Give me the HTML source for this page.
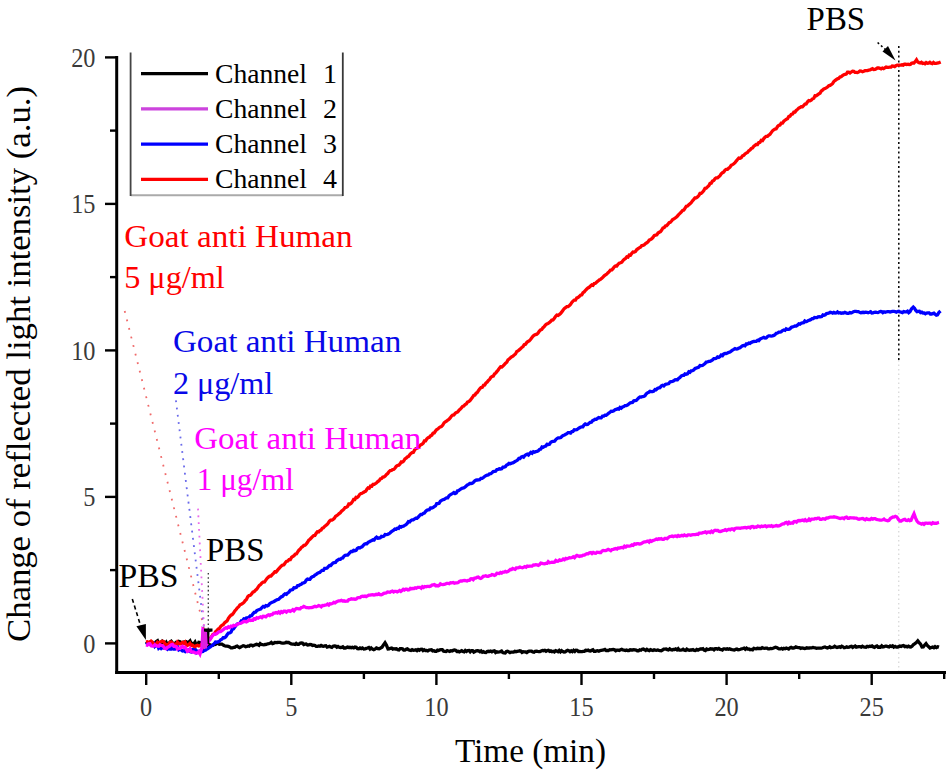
<!DOCTYPE html><html><head><meta charset="utf-8"><style>html,body{margin:0;padding:0;background:#fff;}svg{display:block;}text{font-family:"Liberation Serif",serif;}</style></head><body>
<svg width="952" height="775" viewBox="0 0 952 775">
<g fill="none" stroke="#000">
<line x1="898.8" y1="46" x2="898.8" y2="360" stroke-dasharray="2 2.8" stroke-width="1.5"/>
<line x1="898.8" y1="360" x2="898.8" y2="672" stroke="#ccc" stroke-dasharray="1.5 3" stroke-width="1"/>
</g>
<path d="M146.0,641.8 L147.3,643.0 L148.5,643.2 L149.8,642.3 L151.1,642.6 L152.4,642.5 L153.6,643.3 L154.9,644.1 L156.2,641.6 L157.5,640.7 L158.7,643.7 L160.0,642.9 L161.2,644.1 L162.5,641.4 L163.8,642.5 L165.0,643.9 L166.2,642.3 L167.5,644.8 L168.8,645.3 L170.0,642.0 L171.2,641.2 L172.5,643.0 L173.8,645.1 L175.0,643.4 L176.2,642.3 L177.5,642.8 L178.8,641.4 L180.0,641.7 L181.2,642.6 L182.5,643.1 L183.8,642.1 L185.0,641.8 L186.2,641.7 L187.5,642.6 L188.8,642.1 L190.0,640.9 L191.2,643.9 L192.5,643.5 L193.8,643.9 L195.0,642.2 L196.2,645.0 L197.5,645.2 L198.8,642.4 L200.0,642.6 L201.2,644.4 L202.5,645.0 L203.8,646.2 L205.0,644.7 L206.2,645.4 L207.5,645.5 L208.8,644.6 L210.1,644.9 L211.5,645.3 L212.8,645.3 L214.1,644.6 L215.4,644.5 L216.8,643.4 L218.1,643.4 L219.4,644.3 L220.7,644.2 L222.0,644.1 L223.3,645.0 L224.6,645.8 L225.9,646.2 L227.1,646.1 L228.4,646.4 L229.7,646.9 L231.0,647.8 L232.3,647.9 L233.5,647.4 L234.7,647.3 L235.9,646.4 L237.1,646.0 L238.3,647.0 L239.5,647.7 L240.7,647.0 L241.9,646.4 L243.2,645.7 L244.4,646.0 L245.6,646.8 L246.8,646.5 L248.0,645.9 L249.2,646.2 L250.4,645.1 L251.6,645.1 L252.8,645.9 L254.1,645.3 L255.3,644.8 L256.5,644.3 L257.7,644.6 L259.0,645.3 L260.2,643.6 L261.4,644.5 L262.7,644.7 L263.9,644.8 L265.1,644.5 L266.3,644.4 L267.6,643.8 L268.8,643.6 L270.0,643.3 L271.3,642.4 L272.5,643.6 L273.7,643.2 L274.9,642.4 L276.2,642.6 L277.4,642.5 L278.7,642.4 L279.9,642.4 L281.2,642.8 L282.4,643.1 L283.7,643.2 L284.9,643.0 L286.2,642.3 L287.4,642.5 L288.7,642.5 L290.0,643.3 L291.2,644.0 L292.5,644.2 L293.7,644.2 L295.0,644.4 L296.2,643.4 L297.5,644.3 L298.7,644.3 L300.0,643.3 L301.2,643.0 L302.5,643.1 L303.8,644.6 L305.0,644.2 L306.2,644.0 L307.5,645.0 L308.8,644.8 L310.0,644.4 L311.2,644.6 L312.5,645.5 L313.8,645.1 L315.0,645.4 L316.2,646.4 L317.5,646.3 L318.7,646.0 L319.9,646.3 L321.1,645.5 L322.3,646.1 L323.5,646.3 L324.7,645.9 L325.9,645.8 L327.1,647.2 L328.3,646.8 L329.5,646.3 L330.7,646.9 L331.9,647.4 L333.1,646.2 L334.4,645.9 L335.6,646.1 L336.8,647.2 L338.0,646.5 L339.2,647.3 L340.4,647.5 L341.6,647.4 L342.8,646.8 L344.0,648.0 L345.2,648.0 L346.4,647.6 L347.6,647.0 L348.8,647.6 L350.0,647.3 L351.2,647.7 L352.5,647.3 L353.8,647.9 L355.0,647.0 L356.2,647.3 L357.5,648.6 L358.8,648.8 L360.0,647.9 L361.2,648.7 L362.5,648.0 L363.8,649.0 L365.0,648.9 L366.2,648.4 L367.5,648.0 L368.8,647.5 L370.0,649.0 L371.2,647.9 L372.5,649.1 L373.8,649.7 L375.0,649.2 L376.4,647.9 L377.8,648.6 L379.2,648.7 L380.6,648.0 L382.0,647.2 L383.5,644.8 L385.0,642.7 L386.5,645.3 L388.0,649.0 L389.2,648.8 L390.4,648.3 L391.6,648.1 L392.8,649.1 L394.0,648.7 L395.2,649.0 L396.5,648.8 L397.7,649.7 L398.9,650.0 L400.1,648.6 L401.3,648.6 L402.5,648.8 L403.7,650.1 L404.9,650.1 L406.1,649.3 L407.3,648.9 L408.5,649.7 L409.7,650.2 L410.9,650.5 L412.1,649.6 L413.4,650.3 L414.6,650.2 L415.8,649.9 L417.0,650.7 L418.2,649.6 L419.4,650.2 L420.6,649.3 L421.8,649.2 L423.0,650.6 L424.2,649.7 L425.4,650.5 L426.6,650.4 L427.8,650.9 L429.0,650.1 L430.3,649.9 L431.5,649.8 L432.7,650.9 L433.9,650.7 L435.1,651.3 L436.3,651.4 L437.5,650.1 L438.7,650.5 L439.9,649.8 L441.1,649.6 L442.3,649.6 L443.6,651.1 L444.8,651.3 L446.0,651.5 L447.2,650.6 L448.4,651.0 L449.6,651.4 L450.8,650.7 L452.0,651.0 L453.2,650.4 L454.4,650.0 L455.6,650.3 L456.9,651.5 L458.1,651.3 L459.3,651.9 L460.5,651.2 L461.7,650.7 L462.9,651.6 L464.1,651.9 L465.3,650.5 L466.5,651.4 L467.8,650.5 L469.0,650.4 L470.2,651.8 L471.4,650.6 L472.6,650.7 L473.8,652.1 L475.0,651.5 L476.2,650.8 L477.4,650.7 L478.6,650.9 L479.9,651.8 L481.1,650.9 L482.3,652.2 L483.5,651.6 L484.7,652.5 L485.9,652.6 L487.1,651.6 L488.3,651.3 L489.5,651.6 L490.7,651.1 L491.9,651.9 L493.2,651.1 L494.4,650.8 L495.6,652.5 L496.8,651.8 L498.0,652.1 L499.2,651.9 L500.4,651.6 L501.6,651.1 L502.8,652.5 L504.0,652.9 L505.2,653.0 L506.4,651.5 L507.6,651.2 L508.8,651.9 L510.0,652.7 L511.2,652.1 L512.4,652.2 L513.6,652.2 L514.8,651.4 L516.0,651.7 L517.2,651.4 L518.4,651.2 L519.6,650.8 L520.8,651.1 L522.0,652.4 L523.2,651.7 L524.4,651.9 L525.6,651.9 L526.8,652.5 L528.0,651.6 L529.2,651.2 L530.4,651.1 L531.6,651.1 L532.8,652.0 L534.0,652.3 L535.2,651.3 L536.4,651.1 L537.6,651.4 L538.8,651.6 L540.0,651.6 L541.2,651.0 L542.4,650.4 L543.6,650.7 L544.8,650.4 L546.0,651.2 L547.2,650.5 L548.4,650.3 L549.6,651.3 L550.8,650.9 L552.0,651.7 L553.2,651.3 L554.4,651.9 L555.6,650.7 L556.8,651.1 L558.0,651.7 L559.2,650.5 L560.4,651.8 L561.6,650.7 L562.8,651.5 L564.0,652.0 L565.2,651.9 L566.4,650.9 L567.6,650.3 L568.8,650.8 L570.0,651.7 L571.2,650.8 L572.4,651.6 L573.6,650.4 L574.8,651.5 L576.0,650.2 L577.2,650.4 L578.4,651.5 L579.6,651.5 L580.8,651.7 L582.0,651.6 L583.2,651.4 L584.4,651.3 L585.6,650.3 L586.9,650.5 L588.1,650.1 L589.3,650.9 L590.5,651.0 L591.7,650.3 L592.9,649.8 L594.1,651.3 L595.3,651.3 L596.5,650.9 L597.7,650.7 L598.9,651.2 L600.1,650.6 L601.3,650.4 L602.5,650.2 L603.7,650.0 L604.9,649.5 L606.1,650.5 L607.3,650.3 L608.5,650.5 L609.7,649.7 L610.9,649.9 L612.1,649.6 L613.3,649.5 L614.5,649.7 L615.7,650.8 L616.9,650.2 L618.1,650.1 L619.3,650.4 L620.5,649.8 L621.7,649.3 L622.9,650.0 L624.1,650.2 L625.3,650.5 L626.5,650.1 L627.7,650.5 L628.9,650.6 L630.1,649.8 L631.3,650.0 L632.5,650.0 L633.7,649.6 L634.9,649.8 L636.1,650.1 L637.3,650.8 L638.5,650.9 L639.7,649.8 L640.9,650.2 L642.1,649.2 L643.3,649.0 L644.5,649.7 L645.7,650.5 L646.9,649.4 L648.1,650.2 L649.3,650.6 L650.5,649.7 L651.7,650.1 L652.9,650.5 L654.1,649.7 L655.3,650.1 L656.5,650.3 L657.7,650.0 L658.9,650.4 L660.1,650.6 L661.3,650.7 L662.5,650.1 L663.7,649.2 L664.9,649.1 L666.1,649.0 L667.3,649.6 L668.5,650.0 L669.7,648.9 L670.9,649.7 L672.1,650.0 L673.3,649.4 L674.5,649.5 L675.7,648.9 L677.0,649.8 L678.2,648.7 L679.4,650.2 L680.7,650.2 L681.9,649.9 L683.1,649.2 L684.4,650.2 L685.6,650.5 L686.8,649.1 L688.1,649.9 L689.3,650.2 L690.5,650.0 L691.8,650.0 L693.0,649.5 L694.2,650.3 L695.5,650.5 L696.7,649.5 L698.0,650.1 L699.2,649.5 L700.4,648.9 L701.7,649.0 L702.9,648.7 L704.1,650.0 L705.4,650.5 L706.6,649.1 L707.8,649.6 L709.1,649.4 L710.3,648.8 L711.5,649.0 L712.8,648.9 L714.0,649.8 L715.2,648.7 L716.4,648.7 L717.6,649.1 L718.8,648.5 L720.0,649.4 L721.2,649.5 L722.4,650.0 L723.6,648.9 L724.8,648.8 L726.0,649.2 L727.3,648.8 L728.5,649.3 L729.7,648.8 L730.9,649.4 L732.1,649.7 L733.3,649.8 L734.5,650.1 L735.7,649.4 L736.9,649.1 L738.1,649.7 L739.3,649.6 L740.5,649.3 L741.7,648.8 L742.9,648.5 L744.1,648.1 L745.3,649.2 L746.5,648.2 L747.7,649.1 L748.9,649.0 L750.1,649.7 L751.3,649.4 L752.6,649.8 L753.8,648.3 L755.0,648.6 L756.2,648.8 L757.4,648.3 L758.6,648.5 L759.8,648.3 L761.0,648.5 L762.2,647.6 L763.4,648.2 L764.6,648.3 L765.8,648.1 L767.0,648.2 L768.2,648.9 L769.4,648.8 L770.6,648.5 L771.8,648.6 L773.0,648.2 L774.2,647.7 L775.4,647.2 L776.7,647.6 L777.9,648.2 L779.1,648.9 L780.3,648.9 L781.5,648.4 L782.7,649.1 L783.9,648.3 L785.1,648.7 L786.3,648.1 L787.5,648.5 L788.7,649.0 L789.9,647.9 L791.1,647.3 L792.3,648.0 L793.5,648.0 L794.7,647.7 L795.9,646.9 L797.1,647.4 L798.3,647.6 L799.5,647.6 L800.7,648.4 L802.0,648.0 L803.2,648.2 L804.4,648.5 L805.6,648.3 L806.8,647.8 L808.0,648.1 L809.2,648.0 L810.4,647.9 L811.6,647.9 L812.8,647.4 L814.0,647.7 L815.2,647.8 L816.4,648.3 L817.6,648.2 L818.8,648.2 L820.0,648.1 L821.3,648.1 L822.5,647.7 L823.7,647.2 L824.9,646.9 L826.1,647.6 L827.3,648.0 L828.5,647.5 L829.7,646.7 L830.9,647.7 L832.1,647.3 L833.4,647.2 L834.6,646.3 L835.8,647.0 L837.0,647.5 L838.2,647.1 L839.4,646.8 L840.6,647.3 L841.8,646.2 L843.0,646.8 L844.2,647.8 L845.5,647.5 L846.7,646.9 L847.9,647.3 L849.1,647.2 L850.3,646.5 L851.5,646.3 L852.7,647.4 L853.9,646.6 L855.1,646.0 L856.3,647.2 L857.5,646.9 L858.8,646.6 L860.0,646.7 L861.2,647.2 L862.4,646.2 L863.6,646.9 L864.8,647.1 L866.0,647.3 L867.2,646.4 L868.4,646.8 L869.6,646.2 L870.9,646.6 L872.1,646.0 L873.3,646.9 L874.5,647.3 L875.7,646.4 L876.9,646.0 L878.1,647.2 L879.3,647.0 L880.5,647.2 L881.7,645.8 L883.0,647.0 L884.2,646.7 L885.4,646.1 L886.6,646.2 L887.8,646.7 L889.0,646.9 L890.2,645.9 L891.4,646.4 L892.6,645.8 L893.8,647.1 L895.1,646.4 L896.3,647.1 L897.5,647.0 L898.7,646.7 L899.9,646.1 L901.1,646.4 L902.3,645.8 L903.5,645.6 L904.7,646.6 L905.9,646.2 L907.2,646.9 L908.4,646.1 L909.6,646.8 L910.8,647.0 L912.0,646.3 L913.5,644.5 L914.9,643.6 L916.3,642.6 L917.8,640.8 L919.2,642.6 L920.6,644.2 L922.0,646.9 L923.3,646.8 L924.7,645.0 L926.0,643.6 L927.3,645.5 L928.7,646.8 L930.0,648.0 L931.3,647.5 L932.6,647.0 L933.9,647.8 L935.1,646.7 L936.4,647.6 L937.7,646.8 L939.0,647.2" fill="none" stroke="#000" stroke-width="3.3" stroke-linejoin="miter"/>
<path d="M146.0,642.5 L147.3,643.3 L148.5,643.5 L149.8,644.2 L151.1,645.0 L152.4,643.2 L153.6,642.9 L154.9,646.3 L156.2,645.1 L157.5,645.0 L158.7,648.3 L160.0,647.3 L161.2,648.5 L162.5,647.5 L163.8,648.0 L165.0,646.3 L166.2,647.9 L167.5,649.3 L168.8,648.3 L170.0,649.1 L171.2,649.1 L172.5,646.8 L173.8,649.0 L175.0,649.0 L176.2,648.0 L177.5,646.7 L178.8,649.8 L180.0,649.1 L181.2,650.0 L182.5,651.0 L183.8,650.7 L185.0,651.5 L186.2,649.7 L187.5,651.0 L188.8,650.0 L190.0,651.7 L191.3,652.1 L192.6,649.3 L193.9,648.9 L195.2,649.2 L196.5,652.5 L197.8,651.3 L199.1,651.9 L200.4,650.9 L201.7,651.7 L203.0,651.5 L204.2,650.3 L205.5,650.1 L206.7,649.2 L207.9,648.7 L209.2,647.5 L210.4,646.8 L211.7,645.8 L212.9,645.0 L214.2,643.7 L215.5,642.0 L216.8,642.2 L218.1,641.9 L219.4,641.2 L220.6,639.8 L221.9,639.2 L223.2,637.6 L224.5,637.7 L225.8,636.8 L227.1,634.8 L228.4,633.0 L229.7,632.9 L231.0,632.1 L232.2,629.3 L233.5,628.9 L234.8,627.1 L236.1,625.2 L237.4,623.9 L238.7,623.5 L240.0,623.1 L241.3,620.8 L242.6,620.6 L243.9,618.9 L245.1,619.1 L246.4,617.8 L247.7,617.8 L249.0,617.4 L250.3,615.8 L251.6,615.6 L252.9,613.8 L254.2,612.3 L255.5,612.2 L256.8,610.6 L258.1,609.9 L259.3,609.5 L260.6,609.1 L261.9,607.6 L263.2,606.4 L264.5,607.0 L265.8,605.6 L267.1,605.9 L268.4,605.3 L269.7,603.7 L270.9,602.9 L272.2,602.2 L273.5,601.8 L274.8,601.0 L276.1,600.2 L277.4,599.6 L278.7,599.3 L280.0,597.9 L281.3,596.8 L282.6,596.4 L283.9,594.8 L285.1,593.9 L286.4,594.3 L287.7,592.9 L289.0,592.0 L290.3,590.2 L291.5,589.9 L292.7,589.5 L293.9,587.8 L295.1,587.9 L296.4,587.4 L297.6,585.6 L298.8,585.6 L300.0,584.7 L301.2,584.3 L302.5,583.0 L303.7,582.8 L305.0,582.2 L306.2,580.1 L307.5,579.1 L308.7,579.4 L309.9,579.4 L311.2,577.5 L312.4,576.8 L313.7,576.3 L314.9,575.1 L316.2,574.3 L317.4,573.4 L318.6,572.7 L319.8,572.4 L321.0,571.2 L322.2,570.4 L323.4,570.3 L324.6,568.4 L325.9,568.3 L327.1,568.0 L328.3,566.6 L329.5,565.5 L330.7,565.6 L331.9,564.1 L333.1,563.0 L334.3,562.6 L335.5,562.4 L336.7,560.7 L337.9,560.0 L339.1,559.3 L340.4,559.4 L341.6,558.2 L342.8,558.0 L344.0,556.2 L345.2,555.4 L346.4,555.2 L347.6,555.1 L348.8,553.8 L350.0,552.5 L351.2,551.5 L352.4,551.5 L353.6,550.3 L354.9,550.7 L356.1,550.3 L357.3,548.5 L358.5,547.7 L359.7,547.9 L360.9,547.2 L362.1,546.8 L363.3,545.4 L364.5,544.1 L365.7,543.6 L366.9,543.8 L368.1,542.4 L369.4,541.7 L370.6,541.1 L371.8,540.5 L373.0,539.8 L374.2,540.0 L375.4,538.2 L376.6,537.2 L377.8,538.2 L379.0,538.0 L380.3,537.8 L381.5,536.4 L382.7,536.6 L383.9,536.2 L385.1,534.5 L386.4,534.6 L387.6,534.5 L388.8,533.8 L390.0,533.0 L391.2,531.8 L392.5,531.0 L393.7,530.1 L394.9,529.1 L396.1,529.3 L397.4,528.2 L398.6,528.4 L399.8,526.6 L401.1,527.1 L402.3,526.4 L403.5,526.1 L404.7,525.4 L406.0,524.7 L407.2,523.5 L408.4,521.6 L409.7,521.9 L410.9,520.5 L412.1,519.8 L413.3,519.8 L414.6,519.0 L415.8,518.1 L417.0,518.2 L418.3,517.0 L419.5,515.6 L420.7,514.5 L421.9,514.6 L423.2,513.4 L424.4,513.0 L425.6,511.5 L426.9,510.3 L428.1,509.9 L429.3,509.7 L430.5,507.9 L431.8,508.0 L433.0,507.6 L434.2,506.7 L435.5,505.9 L436.7,503.6 L437.9,503.5 L439.1,503.3 L440.4,501.1 L441.6,500.4 L442.8,499.7 L444.1,499.4 L445.3,498.6 L446.5,497.9 L447.7,497.8 L449.0,495.8 L450.2,494.8 L451.4,494.1 L452.7,493.4 L453.9,492.6 L455.1,493.5 L456.3,492.9 L457.6,490.8 L458.8,490.5 L460.0,489.5 L461.3,488.7 L462.5,488.1 L463.7,487.9 L464.9,487.2 L466.2,486.0 L467.4,484.9 L468.6,484.4 L469.9,483.4 L471.1,483.5 L472.3,483.3 L473.5,482.2 L474.8,480.9 L476.0,480.2 L477.2,480.0 L478.5,479.8 L479.7,479.6 L480.9,478.4 L482.1,478.4 L483.4,477.5 L484.6,476.5 L485.8,475.7 L487.1,475.2 L488.3,475.0 L489.5,473.9 L490.7,473.7 L492.0,472.7 L493.2,471.6 L494.4,471.4 L495.6,471.2 L496.9,469.5 L498.1,469.3 L499.3,468.8 L500.5,469.0 L501.7,468.7 L502.9,467.2 L504.2,467.2 L505.4,466.6 L506.6,465.0 L507.8,464.5 L509.0,463.3 L510.3,463.8 L511.5,463.2 L512.7,463.0 L513.9,462.3 L515.1,461.4 L516.3,460.9 L517.6,460.0 L518.8,458.5 L520.0,458.5 L521.2,457.0 L522.4,456.5 L523.6,457.1 L524.9,455.5 L526.1,454.7 L527.3,454.1 L528.5,455.0 L529.7,453.5 L530.9,452.4 L532.1,453.2 L533.4,451.7 L534.6,452.2 L535.8,451.5 L537.0,451.3 L538.2,450.8 L539.5,449.5 L540.8,449.1 L542.0,447.0 L543.2,447.3 L544.5,446.4 L545.8,446.0 L547.0,444.3 L548.2,444.5 L549.5,444.3 L550.8,442.2 L552.0,441.6 L553.2,441.4 L554.5,441.2 L555.8,439.6 L557.0,438.6 L558.2,437.9 L559.5,437.9 L560.8,437.6 L562.0,436.3 L563.2,435.5 L564.5,434.9 L565.7,434.3 L566.9,433.7 L568.1,432.6 L569.4,432.6 L570.6,433.0 L571.8,431.6 L573.0,431.4 L574.3,429.8 L575.5,429.9 L576.7,429.6 L577.9,428.9 L579.2,428.0 L580.4,427.3 L581.6,426.9 L582.8,426.8 L584.1,425.0 L585.3,424.0 L586.5,424.5 L587.7,424.4 L589.0,423.3 L590.2,422.4 L591.4,422.2 L592.6,420.7 L593.9,420.1 L595.1,419.3 L596.3,419.4 L597.5,418.4 L598.8,417.6 L600.0,417.8 L601.2,417.8 L602.5,416.2 L603.8,416.1 L605.0,415.1 L606.2,415.2 L607.5,414.3 L608.8,413.1 L610.0,412.2 L611.2,411.2 L612.5,411.3 L613.8,410.8 L615.0,409.8 L616.2,409.4 L617.5,408.8 L618.8,409.1 L620.0,407.5 L621.2,408.2 L622.5,407.0 L623.8,406.5 L625.0,405.7 L626.2,405.6 L627.5,405.1 L628.8,404.0 L630.0,403.0 L631.2,402.7 L632.5,402.4 L633.8,400.9 L635.0,400.7 L636.2,400.5 L637.5,399.1 L638.8,397.8 L640.0,396.9 L641.2,397.1 L642.5,396.5 L643.8,396.4 L645.0,395.7 L646.2,393.9 L647.5,392.8 L648.8,392.2 L650.0,391.4 L651.2,391.7 L652.5,391.6 L653.8,391.2 L655.0,389.5 L656.2,389.7 L657.5,388.4 L658.8,387.8 L660.0,387.7 L661.2,386.1 L662.5,385.3 L663.8,386.0 L665.0,384.7 L666.2,384.1 L667.5,383.9 L668.8,383.6 L670.0,381.9 L671.2,381.6 L672.5,381.3 L673.8,380.8 L675.0,379.8 L676.2,379.6 L677.5,379.7 L678.8,378.2 L680.0,377.5 L681.2,376.0 L682.5,375.4 L683.8,375.4 L685.0,373.9 L686.2,374.3 L687.5,373.9 L688.8,371.8 L690.0,372.3 L691.2,370.8 L692.5,370.6 L693.8,370.0 L695.0,368.5 L696.2,368.2 L697.5,367.6 L698.8,367.2 L700.0,365.5 L701.2,365.6 L702.5,365.5 L703.8,364.5 L705.0,363.6 L706.2,362.1 L707.5,362.0 L708.8,361.3 L710.0,361.3 L711.2,360.8 L712.5,360.0 L713.8,358.7 L715.0,358.7 L716.2,358.3 L717.5,356.9 L718.8,357.4 L720.0,356.6 L721.2,355.0 L722.5,355.6 L723.8,353.9 L725.0,353.4 L726.2,353.5 L727.5,353.0 L728.8,352.3 L730.0,352.0 L731.2,351.1 L732.5,350.2 L733.8,349.4 L735.0,348.6 L736.2,349.1 L737.5,348.9 L738.8,348.1 L740.0,347.8 L741.2,346.7 L742.5,345.8 L743.8,345.4 L745.0,345.8 L746.2,344.0 L747.5,344.0 L748.8,343.1 L750.0,343.4 L751.2,342.5 L752.5,341.9 L753.8,341.5 L755.0,341.4 L756.2,341.4 L757.5,340.3 L758.8,340.6 L760.0,339.1 L761.2,338.6 L762.5,337.9 L763.8,337.4 L765.0,338.1 L766.2,337.9 L767.5,336.6 L768.8,335.9 L770.0,335.8 L771.2,336.1 L772.5,335.9 L773.8,335.4 L775.0,334.7 L776.2,333.3 L777.5,333.0 L778.8,332.1 L780.0,332.1 L781.2,331.8 L782.5,330.6 L783.8,330.0 L785.0,330.4 L786.2,328.8 L787.5,329.4 L788.8,329.3 L790.0,328.9 L791.2,327.4 L792.5,326.9 L793.8,326.5 L795.0,326.0 L796.2,326.1 L797.5,325.2 L798.8,323.9 L800.0,324.2 L801.2,323.3 L802.4,322.9 L803.6,322.7 L804.8,321.0 L806.0,321.7 L807.2,321.3 L808.4,320.5 L809.6,320.1 L810.9,319.5 L812.1,318.6 L813.3,318.6 L814.5,317.4 L815.7,317.6 L816.9,317.6 L818.1,316.8 L819.3,316.6 L820.5,316.9 L821.7,316.6 L822.9,314.9 L824.1,315.3 L825.3,314.9 L826.5,313.5 L827.8,313.4 L829.0,312.9 L830.2,312.2 L831.4,312.6 L832.6,313.1 L833.8,312.3 L835.1,313.0 L836.3,312.9 L837.5,311.9 L838.7,312.9 L840.0,312.7 L841.2,313.2 L842.4,313.0 L843.6,313.0 L844.9,312.3 L846.1,312.9 L847.3,313.3 L848.5,313.3 L849.8,312.5 L851.0,312.9 L852.2,312.5 L853.4,311.7 L854.7,311.4 L855.9,311.4 L857.1,311.6 L858.3,311.6 L859.6,312.2 L860.8,312.7 L862.0,312.5 L863.2,312.3 L864.5,312.6 L865.7,312.1 L866.9,312.3 L868.1,312.8 L869.4,312.3 L870.6,311.8 L871.8,313.0 L873.0,312.9 L874.3,312.3 L875.5,312.1 L876.7,312.4 L877.9,312.6 L879.2,311.9 L880.4,311.4 L881.6,311.6 L882.8,312.7 L884.1,311.8 L885.3,312.2 L886.5,311.8 L887.7,311.7 L889.0,311.6 L890.2,312.0 L891.4,311.7 L892.6,311.4 L893.9,311.4 L895.1,311.6 L896.3,312.2 L897.5,311.6 L898.8,311.3 L900.0,312.0 L901.2,312.1 L902.5,312.6 L903.7,311.6 L905.0,311.9 L906.2,311.9 L907.5,311.2 L908.7,312.7 L910.0,311.6 L911.6,308.8 L913.3,307.0 L914.5,308.2 L915.8,310.5 L917.0,311.7 L918.2,311.4 L919.4,311.3 L920.6,312.6 L921.8,312.2 L923.0,313.1 L924.2,312.9 L925.4,313.8 L926.6,313.0 L927.9,312.8 L929.1,312.9 L930.3,314.0 L931.5,314.0 L932.7,313.6 L933.9,313.2 L935.1,314.3 L936.3,315.1 L937.5,314.8 L939.0,312.4 L940.5,311.0" fill="none" stroke="#0000ff" stroke-width="3.3" stroke-linejoin="miter"/>
<path d="M146.0,642.1 L147.3,641.8 L148.5,642.2 L149.8,642.0 L151.1,641.0 L152.4,642.0 L153.6,644.1 L154.9,644.2 L156.2,644.1 L157.5,642.2 L158.7,642.9 L160.0,642.2 L161.2,641.6 L162.5,641.3 L163.8,641.6 L165.0,644.1 L166.2,644.4 L167.5,644.4 L168.8,644.4 L170.0,642.3 L171.2,642.1 L172.5,643.2 L173.8,643.9 L175.0,644.5 L176.2,644.8 L177.5,642.1 L178.8,643.4 L180.0,644.0 L181.2,643.6 L182.5,642.4 L183.8,643.2 L185.0,642.1 L186.2,644.9 L187.5,645.4 L188.8,644.5 L190.0,643.4 L191.2,645.5 L192.5,645.1 L193.8,646.2 L195.0,646.6 L196.2,645.7 L197.5,645.3 L198.8,646.0 L200.0,645.8 L201.2,644.6 L202.4,644.6 L203.6,646.3 L204.8,643.8 L206.0,643.9 L207.4,642.9 L208.8,640.6 L210.1,638.8 L211.5,636.8 L212.9,634.5 L214.2,634.2 L215.5,631.9 L216.8,630.7 L218.1,629.1 L219.4,628.4 L220.6,626.6 L221.9,625.4 L223.2,624.7 L224.5,622.9 L225.8,621.8 L227.1,620.9 L228.4,618.3 L229.7,616.5 L231.0,615.2 L232.2,614.6 L233.5,613.1 L234.8,611.0 L236.1,609.5 L237.4,607.8 L238.7,606.7 L240.0,604.8 L241.3,604.3 L242.6,603.5 L243.9,602.4 L245.1,600.7 L246.4,599.6 L247.7,596.8 L249.0,595.6 L250.3,595.3 L251.6,593.9 L252.9,592.1 L254.2,591.6 L255.5,590.1 L256.8,589.1 L258.1,587.1 L259.3,585.5 L260.6,584.6 L261.9,583.0 L263.2,582.1 L264.5,581.9 L265.8,580.1 L267.1,578.3 L268.4,577.1 L269.7,576.1 L270.9,576.1 L272.2,574.6 L273.5,573.3 L274.8,571.8 L276.1,572.0 L277.4,570.4 L278.7,568.8 L280.0,567.3 L281.3,566.0 L282.6,565.1 L283.9,564.8 L285.1,563.0 L286.4,561.5 L287.7,561.1 L289.0,559.7 L290.3,559.7 L291.5,557.4 L292.8,556.5 L294.0,555.8 L295.2,554.2 L296.5,553.8 L297.7,551.9 L298.9,550.2 L300.2,549.1 L301.4,547.4 L302.6,546.6 L303.9,545.3 L305.1,545.1 L306.3,544.0 L307.5,542.3 L308.8,540.2 L310.0,539.2 L311.2,538.0 L312.5,536.7 L313.7,535.5 L314.9,535.4 L316.2,533.3 L317.4,531.7 L318.6,531.9 L319.8,530.6 L321.0,530.1 L322.2,528.3 L323.4,527.8 L324.6,526.5 L325.8,525.6 L327.0,524.5 L328.3,523.0 L329.5,521.2 L330.7,520.1 L331.9,520.1 L333.1,519.3 L334.3,518.4 L335.5,516.4 L336.7,515.6 L337.9,514.8 L339.1,513.6 L340.3,512.7 L341.5,511.2 L342.7,510.2 L343.9,509.2 L345.1,507.5 L346.4,507.3 L347.6,506.4 L348.8,504.0 L350.0,504.0 L351.2,503.2 L352.4,501.7 L353.6,499.5 L354.8,499.5 L356.0,497.4 L357.2,497.6 L358.4,496.5 L359.6,494.5 L360.9,493.5 L362.1,493.3 L363.3,492.5 L364.5,491.8 L365.7,491.3 L366.9,489.3 L368.1,487.8 L369.3,488.1 L370.5,486.1 L371.8,486.3 L373.0,484.4 L374.2,484.3 L375.4,483.6 L376.6,482.8 L377.9,481.4 L379.1,480.8 L380.3,478.9 L381.5,478.5 L382.8,477.1 L384.0,476.9 L385.2,476.0 L386.5,474.5 L387.7,473.5 L388.9,471.8 L390.2,470.6 L391.4,470.5 L392.6,469.6 L393.9,469.3 L395.1,468.0 L396.3,466.3 L397.5,465.5 L398.8,465.2 L400.0,464.0 L401.2,462.0 L402.4,462.0 L403.6,461.2 L404.9,458.9 L406.1,458.2 L407.3,457.0 L408.5,456.5 L409.7,454.8 L410.9,453.4 L412.2,452.6 L413.4,452.3 L414.6,450.0 L415.8,448.6 L417.0,448.2 L418.3,447.7 L419.5,446.2 L420.7,444.8 L421.9,444.3 L423.2,443.2 L424.4,440.9 L425.6,440.8 L426.9,438.9 L428.1,437.7 L429.3,437.4 L430.5,435.9 L431.8,435.2 L433.0,433.2 L434.2,433.0 L435.5,431.0 L436.7,429.6 L437.9,429.0 L439.1,427.7 L440.4,426.9 L441.6,426.4 L442.8,425.1 L444.1,422.8 L445.3,421.9 L446.5,421.2 L447.8,420.1 L449.0,419.3 L450.2,417.9 L451.5,416.1 L452.7,415.1 L453.9,414.9 L455.2,413.2 L456.4,412.6 L457.7,412.0 L458.9,410.4 L460.1,409.3 L461.4,408.0 L462.6,406.4 L463.8,406.1 L465.1,404.5 L466.3,403.9 L467.5,402.0 L468.8,401.5 L470.0,400.5 L471.2,398.9 L472.5,397.3 L473.7,395.4 L474.9,395.0 L476.1,393.3 L477.4,392.4 L478.6,390.4 L479.8,388.8 L481.0,387.5 L482.3,387.3 L483.5,385.3 L484.7,385.0 L485.9,383.1 L487.2,382.0 L488.4,380.4 L489.6,379.5 L490.8,377.4 L492.1,376.5 L493.3,376.1 L494.5,373.9 L495.7,373.1 L497.0,371.4 L498.2,370.0 L499.4,368.2 L500.6,366.8 L501.9,367.0 L503.1,365.9 L504.3,364.6 L505.5,363.3 L506.8,362.3 L508.0,359.8 L509.2,359.0 L510.5,357.8 L511.8,356.7 L513.0,356.2 L514.2,354.9 L515.5,354.0 L516.8,351.5 L518.0,350.9 L519.2,349.9 L520.5,348.9 L521.8,347.5 L523.0,346.7 L524.2,344.7 L525.5,344.3 L526.8,342.5 L528.0,341.5 L529.2,340.9 L530.5,339.5 L531.8,337.7 L533.0,336.2 L534.2,335.2 L535.5,334.6 L536.8,334.2 L538.0,333.1 L539.2,331.3 L540.5,330.0 L541.8,329.5 L543.0,327.7 L544.2,326.6 L545.5,324.9 L546.8,323.9 L548.0,323.4 L549.2,322.7 L550.5,321.6 L551.8,320.1 L553.0,319.9 L554.2,318.5 L555.5,316.5 L556.8,315.1 L558.0,315.4 L559.2,314.6 L560.5,313.5 L561.8,311.9 L563.0,310.2 L564.2,308.6 L565.5,307.7 L566.8,306.6 L568.0,306.6 L569.2,305.7 L570.5,304.5 L571.8,302.4 L573.0,301.1 L574.2,300.1 L575.5,300.1 L576.8,298.0 L578.0,297.6 L579.2,296.6 L580.5,295.2 L581.8,294.8 L583.0,292.7 L584.2,291.9 L585.5,290.3 L586.8,289.0 L588.0,287.9 L589.2,287.3 L590.5,286.0 L591.8,284.9 L593.0,285.3 L594.2,283.5 L595.5,283.3 L596.8,282.1 L598.0,281.1 L599.2,280.0 L600.5,279.4 L601.8,278.4 L603.0,277.1 L604.2,275.8 L605.5,274.9 L606.8,274.0 L608.0,272.7 L609.2,271.6 L610.5,270.0 L611.8,269.9 L613.0,268.6 L614.2,266.9 L615.5,265.9 L616.8,266.0 L618.0,264.3 L619.2,263.3 L620.5,262.8 L621.8,262.2 L623.0,260.5 L624.2,259.4 L625.5,258.5 L626.8,256.9 L628.0,257.1 L629.2,255.0 L630.5,255.2 L631.8,253.3 L633.0,252.0 L634.2,252.1 L635.5,251.4 L636.8,249.5 L638.0,248.8 L639.2,247.8 L640.5,247.2 L641.8,245.5 L643.0,245.3 L644.2,244.8 L645.5,243.5 L646.8,242.8 L648.0,241.9 L649.2,240.1 L650.5,239.6 L651.8,238.7 L653.0,237.4 L654.2,235.6 L655.5,235.2 L656.8,234.8 L658.0,233.0 L659.2,232.3 L660.5,231.6 L661.7,230.1 L662.9,228.0 L664.2,227.5 L665.4,226.0 L666.6,225.7 L667.8,224.5 L669.1,222.7 L670.3,222.4 L671.5,221.0 L672.8,219.4 L674.0,218.9 L675.2,218.0 L676.5,216.9 L677.7,215.8 L678.9,214.3 L680.2,213.1 L681.4,211.8 L682.6,210.5 L683.8,210.1 L685.1,208.1 L686.3,206.3 L687.5,206.0 L688.8,204.8 L690.0,203.7 L691.2,202.6 L692.5,200.8 L693.8,199.4 L695.0,197.9 L696.2,197.8 L697.5,197.0 L698.8,195.6 L700.0,193.4 L701.2,193.3 L702.5,192.2 L703.8,190.5 L705.0,188.3 L706.2,188.2 L707.5,186.9 L708.8,185.7 L710.0,183.5 L711.2,183.2 L712.5,181.1 L713.8,180.4 L715.0,178.8 L716.2,177.9 L717.5,177.8 L718.8,176.7 L720.0,175.7 L721.2,173.8 L722.5,172.7 L723.8,172.0 L725.0,170.1 L726.2,169.4 L727.5,169.3 L728.8,168.1 L730.0,167.2 L731.2,165.3 L732.5,164.6 L733.8,163.8 L735.0,162.7 L736.2,161.1 L737.5,159.5 L738.8,158.1 L740.0,158.3 L741.2,157.7 L742.5,155.8 L743.8,155.3 L745.0,153.9 L746.2,153.1 L747.5,152.5 L748.8,150.8 L750.0,150.1 L751.2,148.6 L752.5,147.9 L753.8,146.2 L755.0,145.4 L756.2,144.5 L757.5,144.5 L758.8,142.5 L760.0,142.3 L761.2,140.4 L762.5,140.6 L763.8,138.6 L765.0,137.3 L766.2,136.3 L767.5,136.3 L768.8,135.1 L770.0,134.3 L771.2,132.6 L772.5,130.8 L773.8,129.8 L775.0,129.0 L776.2,128.8 L777.5,126.6 L778.8,125.3 L780.0,125.1 L781.2,123.1 L782.5,123.1 L783.8,121.2 L785.0,120.3 L786.2,119.4 L787.5,118.7 L788.8,116.4 L790.0,116.2 L791.2,114.4 L792.5,114.1 L793.8,112.2 L795.0,112.1 L796.2,110.5 L797.5,109.4 L798.8,108.1 L800.0,107.5 L801.2,106.6 L802.5,106.7 L803.8,105.4 L805.0,104.0 L806.2,103.9 L807.5,101.8 L808.8,100.6 L810.0,100.8 L811.2,100.1 L812.5,98.8 L813.8,98.2 L815.0,95.8 L816.2,95.9 L817.5,94.9 L818.8,93.9 L820.0,93.2 L821.2,91.1 L822.5,90.1 L823.8,89.0 L825.0,88.6 L826.2,87.9 L827.5,87.0 L828.8,85.8 L830.0,85.4 L831.2,84.7 L832.5,83.7 L833.8,81.6 L835.0,80.6 L836.2,79.7 L837.5,78.8 L838.8,78.4 L840.0,77.0 L841.2,76.7 L842.5,75.6 L843.8,74.7 L845.0,74.4 L846.2,74.1 L847.5,72.2 L848.8,72.1 L850.0,73.0 L851.2,72.0 L852.5,71.3 L853.8,71.4 L855.0,72.3 L856.2,72.4 L857.5,72.6 L858.8,71.9 L860.0,71.0 L861.2,71.1 L862.5,71.7 L863.8,71.3 L865.0,70.7 L866.2,70.7 L867.5,70.6 L868.7,70.2 L870.0,70.0 L871.2,69.3 L872.5,68.7 L873.7,69.6 L875.0,69.5 L876.2,68.8 L877.4,68.0 L878.7,68.0 L879.9,68.3 L881.1,68.8 L882.4,68.1 L883.6,68.6 L884.8,67.9 L886.1,67.0 L887.3,67.4 L888.5,67.3 L889.8,67.2 L891.0,67.2 L892.2,66.0 L893.5,66.2 L894.7,66.7 L895.9,65.7 L897.2,65.1 L898.4,65.1 L899.6,65.1 L900.8,65.1 L902.0,64.8 L903.2,65.1 L904.4,64.2 L905.6,64.1 L906.8,64.5 L908.0,64.2 L909.2,64.6 L910.4,64.5 L911.6,63.3 L912.8,62.9 L914.0,63.0 L915.2,61.6 L916.5,59.8 L917.8,62.0 L919.0,62.6 L920.2,62.9 L921.4,62.3 L922.6,63.4 L923.8,63.2 L925.0,63.8 L926.2,62.6 L927.4,63.2 L928.6,63.1 L929.9,62.2 L931.1,63.2 L932.3,63.6 L933.5,62.4 L934.7,63.4 L935.9,63.4 L937.1,63.2 L938.3,63.0 L939.5,62.5 L940.7,62.0" fill="none" stroke="#ff0000" stroke-width="3.3" stroke-linejoin="miter"/>
<path d="M146.0,644.8 L147.3,645.2 L148.5,643.8 L149.8,643.7 L151.1,645.8 L152.4,646.1 L153.6,646.1 L154.9,644.8 L156.2,645.7 L157.5,646.1 L158.7,646.3 L160.0,644.8 L161.2,645.5 L162.5,645.6 L163.8,647.0 L165.0,648.5 L166.2,648.7 L167.5,647.3 L168.8,646.6 L170.0,645.7 L171.2,644.7 L172.5,644.4 L173.8,646.2 L175.0,646.1 L176.2,646.5 L177.5,648.9 L178.8,648.2 L180.0,648.4 L181.2,647.3 L182.5,646.4 L183.8,647.5 L185.0,647.3 L186.2,648.9 L187.5,651.4 L188.8,650.9 L190.0,649.0 L191.2,651.6 L192.5,652.0 L193.8,652.1 L195.0,652.9 L196.2,652.8 L197.5,653.0 L198.8,651.6 L200.0,653.9 L202.0,647.3 L203.0,629.2 L205.0,630.8 L206.0,640.6 L207.0,633.1 L208.0,642.1 L209.2,640.2 L210.4,639.2 L211.7,636.8 L212.9,635.4 L214.2,634.0 L215.5,634.2 L216.8,633.7 L218.1,632.3 L219.4,631.7 L220.6,631.7 L221.9,630.8 L223.2,629.7 L224.5,628.5 L225.8,627.8 L227.1,628.1 L228.4,626.8 L229.7,627.5 L231.0,626.1 L232.2,626.6 L233.5,625.3 L234.8,625.8 L236.1,625.1 L237.4,624.2 L238.7,623.7 L240.0,623.5 L241.3,623.1 L242.6,622.2 L243.9,621.5 L245.1,621.5 L246.4,622.0 L247.7,621.3 L249.0,619.8 L250.3,620.5 L251.6,620.2 L252.9,620.3 L254.2,618.7 L255.5,619.1 L256.8,617.7 L258.1,618.2 L259.3,617.4 L260.6,616.9 L261.9,617.7 L263.2,616.3 L264.5,616.4 L265.8,616.8 L267.1,615.5 L268.4,614.8 L269.7,615.6 L270.9,614.7 L272.2,614.7 L273.5,613.2 L274.8,613.1 L276.1,612.5 L277.4,613.0 L278.7,611.9 L280.0,613.1 L281.3,611.6 L282.6,612.4 L283.9,611.2 L285.1,611.2 L286.4,612.1 L287.7,611.0 L289.0,610.7 L290.3,611.4 L291.5,610.7 L292.8,609.7 L294.0,610.8 L295.2,609.4 L296.4,608.5 L297.7,608.6 L298.9,608.8 L300.1,608.9 L301.3,607.5 L302.6,607.3 L303.8,606.4 L305.0,606.9 L306.3,607.6 L307.5,607.6 L308.8,607.9 L310.0,607.6 L311.3,607.7 L312.5,607.4 L313.7,606.8 L315.0,606.2 L316.2,606.7 L317.5,606.2 L318.7,605.6 L320.0,606.0 L321.2,606.8 L322.5,605.4 L323.7,605.6 L325.0,605.1 L326.2,605.0 L327.5,604.1 L328.8,605.1 L330.0,603.8 L331.3,603.9 L332.5,603.4 L333.8,602.3 L335.1,602.8 L336.3,601.9 L337.6,601.3 L338.8,600.9 L340.1,600.8 L341.4,600.4 L342.6,601.1 L343.9,600.8 L345.1,601.3 L346.4,601.1 L347.6,601.1 L348.9,599.5 L350.1,599.3 L351.4,598.8 L352.6,599.1 L353.8,599.0 L355.1,599.2 L356.3,598.9 L357.5,597.8 L358.8,597.7 L360.0,597.7 L361.3,596.5 L362.5,596.2 L363.8,596.6 L365.0,596.0 L366.2,596.7 L367.5,595.9 L368.8,595.2 L370.0,595.1 L371.2,594.9 L372.5,594.7 L373.8,595.0 L375.0,594.8 L376.2,594.3 L377.5,594.6 L378.8,593.8 L380.0,594.6 L381.2,594.8 L382.5,594.2 L383.8,593.4 L385.0,593.1 L386.2,593.0 L387.5,591.9 L388.8,592.1 L390.0,592.2 L391.2,591.4 L392.4,591.0 L393.6,592.0 L394.8,591.3 L396.0,591.3 L397.2,591.9 L398.4,591.3 L399.6,590.5 L400.8,591.4 L402.0,590.4 L403.2,589.3 L404.4,590.1 L405.6,589.2 L406.8,589.1 L408.0,590.0 L409.2,589.7 L410.4,588.4 L411.6,588.7 L412.8,588.5 L414.0,588.5 L415.2,587.8 L416.4,588.2 L417.6,587.3 L418.8,587.3 L420.0,587.3 L421.2,588.2 L422.4,586.7 L423.6,587.4 L424.8,586.5 L426.0,586.8 L427.2,586.4 L428.4,586.3 L429.6,586.6 L430.8,586.0 L432.0,585.1 L433.2,584.8 L434.4,584.5 L435.6,585.7 L436.8,585.5 L438.0,585.9 L439.2,585.3 L440.4,583.9 L441.6,584.5 L442.9,584.7 L444.2,584.5 L445.4,583.9 L446.7,583.4 L448.0,583.3 L449.2,583.7 L450.5,582.7 L451.8,582.8 L453.1,582.5 L454.4,583.2 L455.6,582.9 L456.9,582.9 L458.2,582.6 L459.4,581.4 L460.7,580.9 L462.0,581.0 L463.2,580.5 L464.5,580.4 L465.7,580.7 L467.0,581.0 L468.2,580.3 L469.5,580.3 L470.7,578.9 L472.0,578.8 L473.2,579.7 L474.5,578.2 L475.7,578.2 L477.0,577.3 L478.2,577.0 L479.5,578.1 L480.7,578.4 L482.0,577.7 L483.2,576.4 L484.5,576.2 L485.7,575.8 L487.0,576.3 L488.2,576.3 L489.5,575.7 L490.7,575.5 L492.0,574.5 L493.2,574.8 L494.4,575.4 L495.6,574.9 L496.9,573.3 L498.1,573.4 L499.3,573.6 L500.5,572.5 L501.7,573.1 L502.9,572.2 L504.2,572.2 L505.4,571.4 L506.6,572.0 L507.8,571.5 L509.0,570.7 L510.3,569.5 L511.5,569.5 L512.7,568.5 L513.9,569.0 L515.1,569.4 L516.3,567.9 L517.6,567.9 L518.8,567.6 L520.0,567.1 L521.2,567.5 L522.4,567.8 L523.6,567.3 L524.9,566.6 L526.1,567.2 L527.3,566.1 L528.5,566.4 L529.7,566.1 L530.9,566.1 L532.1,566.1 L533.4,564.9 L534.6,565.1 L535.8,564.6 L537.0,564.8 L538.2,565.3 L539.5,564.6 L540.8,563.1 L542.0,563.4 L543.2,563.7 L544.5,563.9 L545.8,563.4 L547.0,563.4 L548.2,561.7 L549.5,562.8 L550.8,562.5 L552.0,562.1 L553.2,562.3 L554.5,562.1 L555.8,560.5 L557.0,561.2 L558.2,561.1 L559.5,559.9 L560.8,560.4 L562.0,560.1 L563.2,559.0 L564.5,559.7 L565.8,558.4 L567.0,558.8 L568.2,558.3 L569.5,557.7 L570.8,557.8 L572.0,557.5 L573.2,556.7 L574.5,557.7 L575.8,556.1 L577.0,555.4 L578.2,555.9 L579.5,556.4 L580.8,556.0 L582.0,555.9 L583.2,555.1 L584.5,555.1 L585.8,554.2 L587.0,553.7 L588.2,553.8 L589.5,552.8 L590.8,552.5 L592.0,553.5 L593.2,552.5 L594.5,553.1 L595.8,553.2 L597.0,552.3 L598.2,552.4 L599.5,552.5 L600.8,552.5 L602.0,551.0 L603.2,550.5 L604.5,550.6 L605.8,550.6 L607.0,550.1 L608.2,549.3 L609.5,549.9 L610.8,550.7 L612.0,549.6 L613.2,549.4 L614.5,548.9 L615.8,548.6 L617.0,549.1 L618.2,548.0 L619.5,548.1 L620.8,547.6 L622.0,547.4 L623.2,547.8 L624.5,546.2 L625.8,546.9 L627.0,545.9 L628.2,546.1 L629.5,546.2 L630.8,545.7 L632.0,544.9 L633.2,545.3 L634.5,543.9 L635.8,544.2 L637.0,543.7 L638.2,543.6 L639.4,544.0 L640.6,543.8 L641.8,543.3 L643.0,542.4 L644.3,541.9 L645.5,541.9 L646.7,541.4 L647.9,541.1 L649.1,542.1 L650.3,540.7 L651.5,541.4 L652.7,540.6 L653.9,540.2 L655.1,539.8 L656.4,539.1 L657.6,539.4 L658.8,538.8 L660.0,539.0 L661.2,538.6 L662.4,539.4 L663.6,539.4 L664.8,538.4 L666.0,538.3 L667.2,538.6 L668.5,537.4 L669.7,536.5 L670.9,536.4 L672.1,536.1 L673.3,536.7 L674.5,536.1 L675.7,535.9 L677.0,536.5 L678.2,535.5 L679.4,536.2 L680.7,535.9 L681.9,535.3 L683.1,535.8 L684.4,534.9 L685.6,535.6 L686.8,535.7 L688.1,534.8 L689.3,534.8 L690.5,535.2 L691.8,534.8 L693.0,534.6 L694.2,534.6 L695.5,534.6 L696.7,534.2 L698.0,534.4 L699.2,533.1 L700.4,533.2 L701.7,533.2 L702.9,532.6 L704.1,532.3 L705.4,531.8 L706.6,532.9 L707.8,532.0 L709.1,531.9 L710.3,532.5 L711.5,531.2 L712.8,532.2 L714.0,530.8 L715.2,530.2 L716.5,530.5 L717.8,530.5 L719.0,531.4 L720.2,531.5 L721.5,531.2 L722.8,530.5 L724.0,530.4 L725.2,529.7 L726.5,530.5 L727.8,529.8 L729.0,529.3 L730.2,529.8 L731.5,528.9 L732.8,528.9 L734.0,529.9 L735.2,528.5 L736.5,528.2 L737.8,528.1 L739.0,528.1 L740.2,528.3 L741.5,527.9 L742.8,527.9 L744.0,527.6 L745.2,527.4 L746.5,527.9 L747.8,527.4 L749.0,527.3 L750.2,527.9 L751.5,526.6 L752.8,526.4 L754.0,527.5 L755.2,526.9 L756.5,527.2 L757.8,526.1 L759.0,526.4 L760.2,526.9 L761.5,526.1 L762.8,526.5 L764.0,526.2 L765.3,525.8 L766.5,526.8 L767.8,526.0 L769.0,525.9 L770.3,526.2 L771.5,525.7 L772.8,526.6 L774.0,526.1 L775.3,525.8 L776.5,525.4 L777.8,526.0 L779.0,525.9 L780.3,525.4 L781.5,524.4 L782.8,523.9 L784.0,523.8 L785.3,522.8 L786.5,522.4 L787.8,523.7 L789.0,522.3 L790.2,523.3 L791.5,522.9 L792.8,523.1 L794.0,521.6 L795.2,521.4 L796.5,522.1 L797.8,520.8 L799.0,520.5 L800.2,520.7 L801.5,520.3 L802.8,520.0 L804.0,520.7 L805.2,519.7 L806.5,520.9 L807.8,520.5 L809.0,519.2 L810.2,520.3 L811.5,519.2 L812.8,519.2 L814.0,519.2 L815.2,518.5 L816.5,518.8 L817.8,518.1 L819.0,518.1 L820.2,519.3 L821.5,519.4 L822.8,518.8 L824.0,518.9 L825.2,519.2 L826.5,517.9 L827.8,518.1 L829.0,517.5 L830.2,517.2 L831.5,517.1 L832.8,517.2 L834.0,516.8 L835.2,517.0 L836.5,517.3 L837.8,517.7 L839.0,518.2 L840.2,518.5 L841.5,518.2 L842.8,517.9 L844.0,518.6 L845.2,517.4 L846.5,517.1 L847.8,518.3 L849.0,518.3 L850.2,517.6 L851.5,517.8 L852.8,517.8 L854.0,518.0 L855.2,518.2 L856.5,518.2 L857.8,519.0 L859.0,519.2 L860.2,518.9 L861.5,518.7 L862.8,518.4 L864.0,519.2 L865.2,519.8 L866.5,518.7 L867.8,519.3 L869.0,519.5 L870.2,519.5 L871.5,518.4 L872.8,519.1 L874.0,518.7 L875.2,518.6 L876.5,519.4 L877.8,519.7 L879.0,519.8 L880.2,520.1 L881.5,520.1 L882.8,519.8 L884.0,519.0 L885.2,520.1 L886.5,520.5 L887.8,520.7 L889.0,520.4 L890.3,518.5 L891.5,517.8 L892.8,516.9 L894.0,517.1 L895.3,516.4 L896.9,517.0 L898.4,519.5 L900.0,521.0 L901.2,521.0 L902.4,520.2 L903.7,519.7 L904.9,519.4 L906.1,520.4 L907.3,520.5 L908.6,519.7 L909.8,520.7 L911.0,520.3 L912.5,516.9 L914.0,513.8 L915.5,517.9 L917.0,521.0 L918.6,522.8 L920.3,523.4 L921.5,524.1 L922.8,523.4 L924.0,524.3 L925.3,523.2 L926.5,523.1 L927.8,523.4 L929.0,523.1 L930.3,523.2 L931.5,523.9 L932.8,522.7 L934.0,523.3 L935.3,523.2 L936.5,523.3 L937.8,522.7 L939.0,522.4" fill="none" stroke="#ff00ff" stroke-width="3.3" stroke-linejoin="miter"/>
<g stroke="#000" fill="none">
<line x1="116.7" y1="56" x2="116.7" y2="674" stroke-width="3"/>
<line x1="115.2" y1="672.5" x2="946" y2="672.5" stroke-width="3"/>
<line x1="105" y1="643.4" x2="117" y2="643.4" stroke-width="2.4"/>
<line x1="105" y1="496.9" x2="117" y2="496.9" stroke-width="2.4"/>
<line x1="105" y1="350.4" x2="117" y2="350.4" stroke-width="2.4"/>
<line x1="105" y1="203.9" x2="117" y2="203.9" stroke-width="2.4"/>
<line x1="105" y1="57.4" x2="117" y2="57.4" stroke-width="2.4"/>
<line x1="110" y1="570.1" x2="117" y2="570.1" stroke-width="2.4"/>
<line x1="110" y1="423.6" x2="117" y2="423.6" stroke-width="2.4"/>
<line x1="110" y1="277.1" x2="117" y2="277.1" stroke-width="2.4"/>
<line x1="110" y1="130.6" x2="117" y2="130.6" stroke-width="2.4"/>
<line x1="146.2" y1="672" x2="146.2" y2="685" stroke-width="2.4"/>
<line x1="291.3" y1="672" x2="291.3" y2="685" stroke-width="2.4"/>
<line x1="436.4" y1="672" x2="436.4" y2="685" stroke-width="2.4"/>
<line x1="581.5" y1="672" x2="581.5" y2="685" stroke-width="2.4"/>
<line x1="726.6" y1="672" x2="726.6" y2="685" stroke-width="2.4"/>
<line x1="871.7" y1="672" x2="871.7" y2="685" stroke-width="2.4"/>
<line x1="218.8" y1="672" x2="218.8" y2="679" stroke-width="2.4"/>
<line x1="363.9" y1="672" x2="363.9" y2="679" stroke-width="2.4"/>
<line x1="508.9" y1="672" x2="508.9" y2="679" stroke-width="2.4"/>
<line x1="654.0" y1="672" x2="654.0" y2="679" stroke-width="2.4"/>
<line x1="799.2" y1="672" x2="799.2" y2="679" stroke-width="2.4"/>
<line x1="944.2" y1="672" x2="944.2" y2="679" stroke-width="2.4"/>
</g>
<g font-size="27" fill="#3a3a3a">
<text transform="translate(146.2,716) scale(0.9,1)" text-anchor="middle">0</text>
<text transform="translate(291.3,716) scale(0.9,1)" text-anchor="middle">5</text>
<text transform="translate(436.4,716) scale(0.9,1)" text-anchor="middle">10</text>
<text transform="translate(581.5,716) scale(0.9,1)" text-anchor="middle">15</text>
<text transform="translate(726.6,716) scale(0.9,1)" text-anchor="middle">20</text>
<text transform="translate(871.7,716) scale(0.9,1)" text-anchor="middle">25</text>
<text transform="translate(95.5,652.6) scale(0.9,1)" text-anchor="end">0</text>
<text transform="translate(95.5,506.1) scale(0.9,1)" text-anchor="end">5</text>
<text transform="translate(95.5,359.6) scale(0.9,1)" text-anchor="end">10</text>
<text transform="translate(95.5,213.1) scale(0.9,1)" text-anchor="end">15</text>
<text transform="translate(95.5,66.6) scale(0.9,1)" text-anchor="end">20</text>
</g>
<text x="455" y="761.6" font-size="34" textLength="151" lengthAdjust="spacingAndGlyphs">Time (min)</text>
<text transform="translate(30.2,642) rotate(-90)" x="0" y="0" font-size="34.3" textLength="556" lengthAdjust="spacingAndGlyphs">Change of reflected light intensity (a.u.)</text>
<line x1="130.8" y1="195.3" x2="342.8" y2="195.3" stroke="#aaa" stroke-width="2"/>
<line x1="130.6" y1="52.5" x2="130.6" y2="196" stroke="#454545" stroke-width="1.8"/>
<line x1="342.8" y1="52.5" x2="342.8" y2="196" stroke="#383838" stroke-width="1.8"/>
<line x1="141" y1="73.6" x2="208" y2="73.6" stroke="#000" stroke-width="3.2"/>
<text x="215" y="83.4" font-size="28" textLength="92" lengthAdjust="spacingAndGlyphs">Channel</text>
<text x="330" y="83.4" font-size="28" text-anchor="middle">1</text>
<line x1="141" y1="108.8" x2="208" y2="108.8" stroke="#cc44dd" stroke-width="3.2"/>
<text x="215" y="118.1" font-size="28" textLength="92" lengthAdjust="spacingAndGlyphs">Channel</text>
<text x="330" y="118.1" font-size="28" text-anchor="middle">2</text>
<line x1="141" y1="144.1" x2="208" y2="144.1" stroke="#0000ff" stroke-width="3.2"/>
<text x="215" y="152.8" font-size="28" textLength="92" lengthAdjust="spacingAndGlyphs">Channel</text>
<text x="330" y="152.8" font-size="28" text-anchor="middle">3</text>
<line x1="141" y1="179.3" x2="208" y2="179.3" stroke="#ff0000" stroke-width="3.2"/>
<text x="215" y="187.5" font-size="28" textLength="92" lengthAdjust="spacingAndGlyphs">Channel</text>
<text x="330" y="187.5" font-size="28" text-anchor="middle">4</text>
<text x="124.2" y="247" font-size="31" fill="#ff0000" textLength="228.5" lengthAdjust="spacingAndGlyphs">Goat anti Human</text>
<text x="124.2" y="288" font-size="31" fill="#ff0000" textLength="100.6" lengthAdjust="spacingAndGlyphs">5 &#956;g/ml</text>
<text x="172.9" y="352" font-size="31" fill="#0808e8" textLength="228.4" lengthAdjust="spacingAndGlyphs">Goat anti Human</text>
<text x="172.9" y="393.5" font-size="31" fill="#0808e8" textLength="100.3" lengthAdjust="spacingAndGlyphs">2 &#956;g/ml</text>
<text x="194.2" y="449.1" font-size="31" fill="#ff00ff" textLength="227.1" lengthAdjust="spacingAndGlyphs">Goat anti Human</text>
<text x="196.8" y="489.8" font-size="31" fill="#ff00ff" textLength="97.2" lengthAdjust="spacingAndGlyphs">1 &#956;g/ml</text>
<text x="806.6" y="29.8" font-size="33" fill="#000" textLength="58.5" lengthAdjust="spacingAndGlyphs">PBS</text>
<text x="118.6" y="587.1" font-size="33" fill="#000" textLength="60" lengthAdjust="spacingAndGlyphs">PBS</text>
<text x="206" y="561.1" font-size="33" fill="#000" textLength="58.5" lengthAdjust="spacingAndGlyphs">PBS</text>
<g fill="none" stroke-width="1.8" opacity="0.62">
<line x1="124.7" y1="311" x2="204" y2="628" stroke="#e81010" stroke-dasharray="1.8 7"/>
<line x1="175.9" y1="400.3" x2="204" y2="628" stroke="#1010e0" stroke-dasharray="1.8 5.5"/>
<line x1="198" y1="508.6" x2="204" y2="628" stroke="#e010e0" stroke-dasharray="1.8 5"/>
</g>
<g fill="none" stroke="#000" stroke-width="1.6">
<line x1="208.3" y1="573" x2="208.3" y2="630" stroke-dasharray="1.6 2.6" stroke-width="1.3" opacity="0.8"/>
<line x1="877.6" y1="42.5" x2="886" y2="50" stroke-dasharray="2 2.5"/>
<line x1="132.3" y1="598.9" x2="141" y2="627" stroke-dasharray="4 3"/>
</g>
<rect x="201.5" y="629.5" width="5.5" height="19" fill="#e020e0"/>
<g fill="#000">
<path d="M136.4,626.3 L145.9,624 L145.9,640 Z"/>
<path d="M204,628.5 L212.5,628.5 L212.5,631.5 L209.5,632 L209,644 L207.6,644 L207,632 L204,631.5 Z"/>
<path d="M882.5,51.5 L888,46 L895.5,60.5 Z"/>
</g>
</svg></body></html>
